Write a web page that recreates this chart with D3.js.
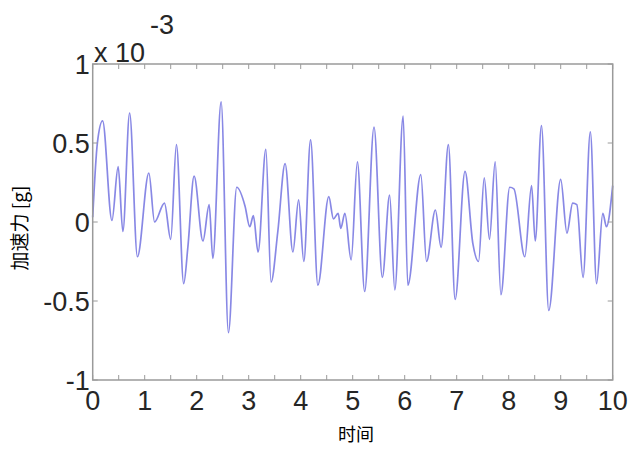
<!DOCTYPE html>
<html><head><meta charset="utf-8">
<script src="https://cdn.jsdelivr.net/npm/d3@7"></script>
<style>body{margin:0;background:#fff}svg{display:block}</style>
</head><body>
<svg id="c" width="642" height="450"></svg>
<script>
const times = [0,0.09,0.19,0.37,0.49,0.58,0.71,0.86,1.08,1.19,1.38,1.50,1.61,1.75,1.83,1.95,2.12,2.24,2.31,2.47,2.61,2.77,2.93,3.02,3.09,3.18,3.33,3.43,3.56,3.70,3.85,3.96,4.06,4.19,4.33,4.54,4.63,4.72,4.77,4.85,4.97,5.09,5.23,5.41,5.57,5.71,5.81,5.97,6.06,6.31,6.42,6.59,6.70,6.84,6.97,7.16,7.31,7.42,7.53,7.63,7.74,7.85,8.02,8.10,8.31,8.44,8.51,8.63,8.77,9.00,9.12,9.23,9.31,9.43,9.57,9.69,9.81,9.88,10.0];
const accel = [0.03,0.50,0.64,0.01,0.35,-0.06,0.69,-0.22,0.31,0.00,0.12,-0.11,0.49,-0.39,-0.16,0.29,-0.12,0.11,-0.23,0.76,-0.70,0.22,0.10,-0.03,0.04,-0.19,0.46,-0.38,-0.06,0.37,-0.19,0.14,-0.25,0.52,-0.40,0.16,0.02,0.055,-0.04,0.055,-0.24,0.38,-0.44,0.60,-0.35,0.17,-0.43,0.67,-0.40,0.30,-0.25,0.076,-0.16,0.49,-0.49,0.32,-0.135,-0.25,0.28,-0.11,0.38,-0.46,0.22,0.21,-0.22,0.23,-0.12,0.61,-0.56,0.27,-0.07,0.12,0.11,-0.35,0.57,-0.39,0.055,-0.03,0.23];
const xTicks = [0,1,2,3,4,5,6,7,8,9,10];
const xMinor = d3.range(0,10.01,0.5);
const yTicks = [-1,-0.5,0,0.5,1];
const yTickLabels = ["-1","-0.5","0","0.5","1"];
const xTitle = "时间";
const yTitle = "加速力 [g]";
const expBase = "x 10";
const expPow = "-3";

const svg = d3.select("#c");
const L=92.7,R=612.7,T=64,B=380;
const x = d3.scaleLinear().domain([0,10]).range([L,R]);
const y = d3.scaleLinear().domain([-1,1]).range([B,T]);
const gray="#9a9a9a", txt="#262626";
const tl=5;

// line
svg.append("path").datum(times.map((t,i)=>[t,accel[i]]))
  .attr("fill","none").attr("stroke","#6a6ade").attr("stroke-width",1.7)
  .attr("stroke-opacity",0.8)
  .attr("d",d3.line().x(d=>x(d[0])).y(d=>y(d[1])).curve(d3.curveMonotoneX));

// frame
svg.append("rect").attr("x",L).attr("y",T).attr("width",R-L).attr("height",B-T)
  .attr("fill","none").attr("stroke",gray).attr("stroke-width",1.5);

// ticks
const tg = svg.append("g").attr("stroke",gray).attr("stroke-width",1);
xMinor.forEach(v=>{
  tg.append("line").attr("x1",x(v)).attr("x2",x(v)).attr("y1",B).attr("y2",B-tl);
  tg.append("line").attr("x1",x(v)).attr("x2",x(v)).attr("y1",T).attr("y2",T+tl);
});
yTicks.forEach(v=>{
  tg.append("line").attr("y1",y(v)).attr("y2",y(v)).attr("x1",L).attr("x2",L+tl);
  tg.append("line").attr("y1",y(v)).attr("y2",y(v)).attr("x1",R).attr("x2",R-tl);
});

const font="Liberation Sans, Arial, sans-serif";
// x labels
svg.append("g").selectAll("text").data(xTicks).join("text")
  .attr("x",d=>x(d)).attr("y",B+30).attr("text-anchor","middle")
  .attr("font-family",font).attr("font-size",27).attr("fill",txt).text(d=>d);
// y labels
svg.append("g").selectAll("text").data(yTicks).join("text")
  .attr("x",L-3).attr("y",d=>y(d)+10).attr("text-anchor","end")
  .attr("font-family",font).attr("font-size",27).attr("fill",txt)
  .text((d,i)=>yTickLabels[i]);
// exponent
svg.append("text").attr("x",94).attr("y",62).attr("font-family",font)
  .attr("font-size",27).attr("fill",txt).text(expBase);
svg.append("text").attr("x",150).attr("y",34).attr("font-family",font)
  .attr("font-size",27).attr("fill",txt).text(expPow);
// titles
svg.append("text").attr("x",356).attr("y",441).attr("text-anchor","middle")
  .attr("font-family","Noto Sans CJK SC, sans-serif").attr("font-size",18).attr("fill","#000").text(xTitle);
svg.append("text").attr("transform","translate(27,228) rotate(-90)").attr("text-anchor","middle")
  .attr("font-family","Noto Sans CJK SC, sans-serif").attr("font-size",19).attr("fill","#000").text(yTitle);
</script>
</body></html>
